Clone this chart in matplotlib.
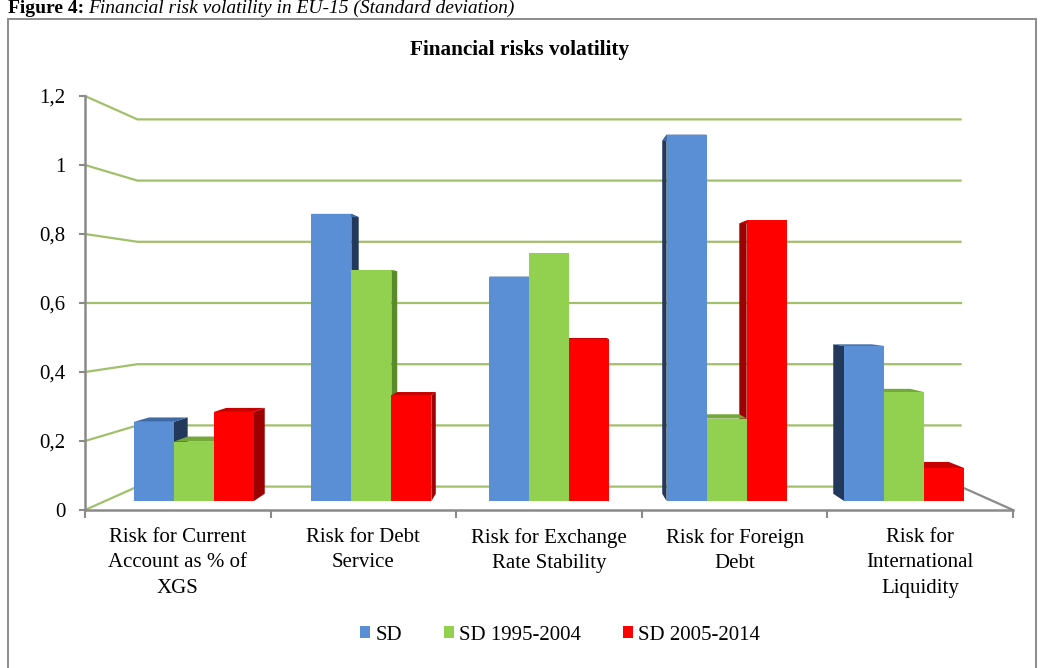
import matplotlib
matplotlib.use('Agg')
import matplotlib.pyplot as plt
from matplotlib.patches import Polygon, Rectangle, Patch

plt.rcParams['font.family'] = ['Liberation Serif', 'DejaVu Serif']

# data
categories = ['Risk for Current\nAccount as % of\nXGS',
              'Risk for Debt\nService',
              'Risk for Exchange\nRate Stability',
              'Risk for Foreign\nDebt',
              'Risk for\nInternational\nLiquidity']
series_names = ['SD', 'SD 1995-2004', 'SD 2005-2014']
sd_all = [0.24, 0.87, 0.68, 1.11, 0.47]
sd_1995_2004 = [0.18, 0.70, 0.75, 0.25, 0.33]
sd_2005_2014 = [0.27, 0.32, 0.49, 0.85, 0.10]
y_ticks = [0, 0.2, 0.4, 0.6, 0.8, 1.0, 1.2]
y_tick_labels = ['0', '0,2', '0,4', '0,6', '0,8', '1', '1,2']

series = [sd_all, sd_1995_2004, sd_2005_2014]
# front, side, top
colors = [('#5a8fd6', '#22395c', '#3f6aa3'),
          ('#92d050', '#5b8a2c', '#74a83a'),
          ('#ff0000', '#9c0000', '#c80000')]
grid_col = '#a2bf6a'
axis_col = '#8a8a8a'

# simple perspective: everything shrinks toward the (CX, CY) point
CX, CY = 2.5, 0.6
WALL = 0.887
BAR_FRONT, BAR_BACK = 0.957, 0.9215
bar_w = 0.2253


def proj(x, y, s):
    return CX + s * (x - CX), CY + s * (y - CY)


W, H = 1043, 668
fig = plt.figure(figsize=(W / 100, H / 100), dpi=100)
ax = fig.add_axes([85 / W, (H - 510) / H, 928 / W, 414 / H])
ax.set_xlim(0, 5)
ax.set_ylim(0, 1.2)
for sp in ax.spines.values():
    sp.set_visible(False)

# walls: left side lines + back wall gridlines
for v in y_ticks:
    bx0, by = proj(0, v, WALL)
    bx1, _ = proj(5, v, WALL)
    ax.plot([0, bx0, bx1], [v, by, by], color=grid_col, lw=1.6,
            clip_on=False, zorder=1, solid_joinstyle='miter')

# floor edges and value axis
fx, fy = proj(5, 0, WALL)
ax.plot([fx, 5], [fy, 0], color=axis_col, lw=1.6, clip_on=False, zorder=2)
ax.plot([0, 5], [0, 0], color=axis_col, lw=1.8, clip_on=False, zorder=2)
ax.plot([0, 0], [0, 1.2], color=axis_col, lw=1.8, clip_on=False, zorder=2)

# bars, farthest from the centre first so nearer faces cover them
bars = []
for i in range(len(categories)):
    for j, vals in enumerate(series):
        left = i + 0.5 - 1.5 * bar_w + j * bar_w
        bars.append((abs(left + bar_w / 2 - CX), left, vals[i], j))
bars.sort(key=lambda b: -b[0])

z = 3
for _, x0, v, j in bars:
    x1 = x0 + bar_w
    front, side, top = colors[j]
    edge = None
    if x1 <= CX:
        edge = x1
    elif x0 >= CX:
        edge = x0
    if edge is not None:
        pts = [proj(edge, 0, BAR_FRONT), proj(edge, v, BAR_FRONT),
               proj(edge, v, BAR_BACK), proj(edge, 0, BAR_BACK)]
        ax.add_patch(Polygon(pts, closed=True, fc=side, ec='none', zorder=z))
    pts = [proj(x0, v, BAR_FRONT), proj(x1, v, BAR_FRONT),
           proj(x1, v, BAR_BACK), proj(x0, v, BAR_BACK)]
    ax.add_patch(Polygon(pts, closed=True, fc=top, ec='none', zorder=z + 1))
    fx0, _ = proj(x0, 0, BAR_FRONT)
    ax.bar(fx0, v * BAR_FRONT, width=bar_w * BAR_FRONT,
           bottom=CY * (1 - BAR_FRONT), align='edge', color=front,
           edgecolor='none', zorder=z + 2)
    z += 3

# ticks
ax.set_yticks(y_ticks)
ax.set_yticklabels(y_tick_labels)
ax.set_xticks(range(len(categories) + 1))
ax.set_xticklabels([])
ax.set_xticks([i + 0.5 for i in range(len(categories))], minor=True)
ax.set_xticklabels(categories, minor=True, fontsize=15, linespacing=1.45)
ax.tick_params(axis='y', length=4, width=1.5, color=axis_col, pad=10,
               labelsize=15)
ax.tick_params(axis='x', which='major', length=6, width=1.5, color=axis_col,
               direction='out')
ax.tick_params(axis='x', which='minor', length=0, pad=13)

fig.text(520 / W, 1 - 50 / H, 'Financial risks volatility', fontsize=15.3,
         fontweight='bold', ha='center', va='center')

handles = [Patch(facecolor=c[0], edgecolor='none') for c in colors]
fig.legend(handles, series_names, loc='center',
           bbox_to_anchor=(560 / W, 1 - 635 / H), ncol=3, frameon=False,
           fontsize=15, handlelength=0.5, handleheight=0.5,
           handletextpad=0.25, columnspacing=2.0)

# outer chart frame (runs off the bottom of the page)
fig.add_artist(Rectangle((8 / W, -0.02), (1036 - 8) / W, (H - 19) / H + 0.02,
                         transform=fig.transFigure, fill=False,
                         ec='#8c8c8c', lw=1.4))

# caption line above the frame
t1 = fig.text(8 / W, 1 - 13 / H, 'Figure 4:', fontsize=14, fontweight='bold',
              va='baseline')
fig.canvas.draw()
bb = t1.get_window_extent()
fig.text((bb.x1 + 4) / W, 1 - 13 / H,
         'Financial risk volatility in EU-15 (Standard deviation)',
         fontsize=14, fontstyle='italic', va='baseline')

fig.savefig('out.png', dpi=100)
